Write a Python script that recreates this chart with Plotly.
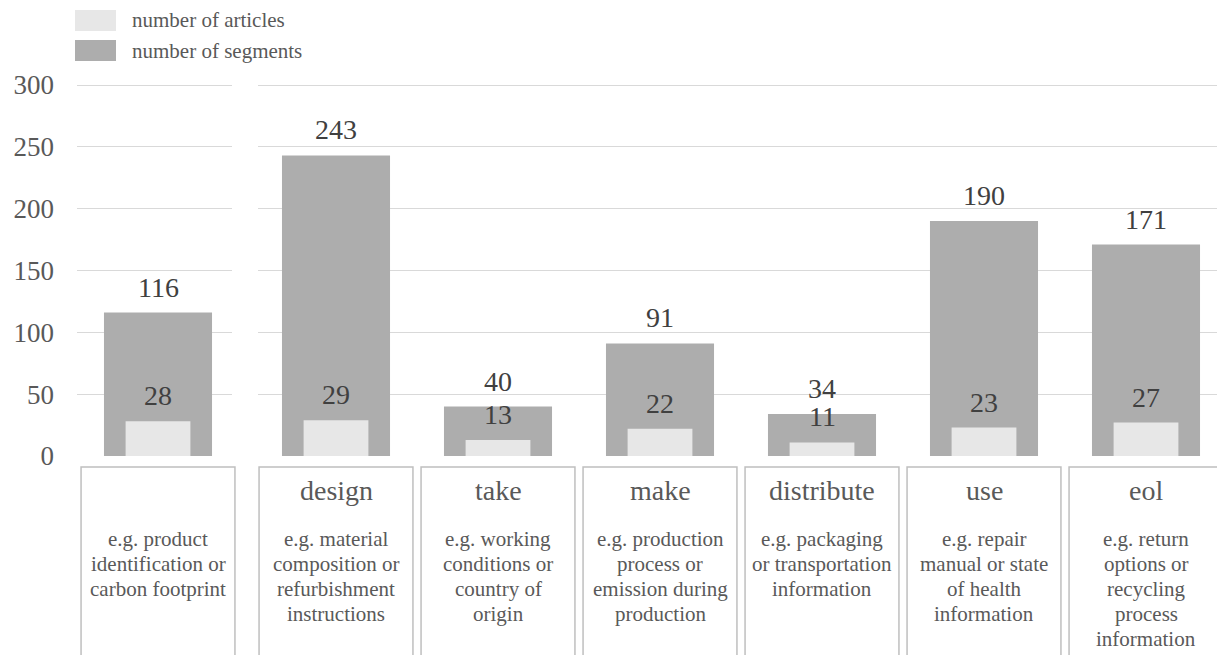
import plotly.graph_objects as go

# ---------------- data ----------------
categories = ["", "design", "take", "make", "distribute", "use", "eol"]
segments = [116, 243, 40, 91, 34, 190, 171]
articles = [28, 29, 13, 22, 11, 23, 27]
descriptions = [
    ["e.g. product", "identification or", "carbon footprint"],
    ["e.g. material", "composition or", "refurbishment", "instructions"],
    ["e.g. working", "conditions or", "country of", "origin"],
    ["e.g. production", "process or", "emission during", "production"],
    ["e.g. packaging", "or transportation", "information"],
    ["e.g. repair", "manual or state", "of health", "information"],
    ["e.g. return", "options or", "recycling", "process", "information"],
]
y_ticks = [0, 50, 100, 150, 200, 250, 300]
legend_names = ["number of articles", "number of segments"]

# ---------------- style ----------------
W, H = 1217, 655
FONT = "Liberation Serif, Times New Roman, serif"
DARK = "#adadad"
LIGHT = "#e7e7e7"
GRID = "#d9d9d9"
TXT = "#595959"
LBL = "#404040"
BOX = "#bfbfbf"

STEP = 162.0  # px per category
dom1 = (77, 232)
dom2 = (258, 1217)
rng1 = [-81 / STEP, (dom1[1] - 158) / STEP]
rng2 = [-78 / STEP, (dom2[1] - 336) / STEP]
Y_MAX = 301.0
PX_PER_UNIT = (456 - 85) / 300.0
y_bot_px = 456
y_top_px = y_bot_px - Y_MAX * PX_PER_UNIT

fig = go.Figure()

groups = [
    ("x", "y", [0]),
    ("x2", "y2", list(range(1, len(categories)))),
]
for xa, ya, idx in groups:
    xs = list(range(len(idx)))
    fig.add_trace(go.Bar(x=xs, y=[segments[i] for i in idx], width=0.667,
                         marker=dict(color=DARK, line=dict(width=0)),
                         xaxis=xa, yaxis=ya, showlegend=False, hoverinfo="skip"))
    fig.add_trace(go.Bar(x=xs, y=[articles[i] for i in idx], width=0.4,
                         marker=dict(color=LIGHT, line=dict(width=0)),
                         xaxis=xa, yaxis=ya, showlegend=False, hoverinfo="skip"))

annotations = []
shapes = []


def cat_px(pos, dom, rng):
    return dom[0] + (pos - rng[0]) / (rng[1] - rng[0]) * (dom[1] - dom[0])


for xa, ya, idx in groups:
    dom, rng = (dom1, rng1) if xa == "x" else (dom2, rng2)
    for k, i in enumerate(idx):
        for val in (segments[i], articles[i]):
            annotations.append(dict(x=k, y=val, xref=xa, yref=ya, text=str(val),
                                    showarrow=False, yanchor="bottom", yshift=8,
                                    font=dict(family=FONT, size=28, color=LBL)))
        cx = cat_px(k, dom, rng)
        half = 0.475 * STEP
        shapes.append(dict(type="rect", xref="paper", yref="paper",
                           x0=(cx - half) / W, x1=(cx + half) / W,
                           y0=-0.1, y1=(H - 467) / H,
                           line=dict(color=BOX, width=1.5), fillcolor="rgba(0,0,0,0)"))
        if categories[i]:
            annotations.append(dict(x=cx / W, y=(H - 490) / H, xref="paper", yref="paper",
                                    text=categories[i], showarrow=False,
                                    xanchor="center", yanchor="middle",
                                    font=dict(family=FONT, size=28, color=TXT)))
        for j, line in enumerate(descriptions[i]):
            annotations.append(dict(x=cx / W, y=(H - (539 + 25 * j)) / H,
                                    xref="paper", yref="paper", text=line,
                                    showarrow=False, xanchor="center", yanchor="middle",
                                    font=dict(family=FONT, size=21, color=TXT)))

# manual legend
legend_colors = [LIGHT, DARK]
for j, (name, col) in enumerate(zip(legend_names, legend_colors)):
    ytop = 10 + 30 * j
    shapes.append(dict(type="rect", xref="paper", yref="paper",
                       x0=75 / W, x1=116 / W, y0=(H - ytop - 21) / H, y1=(H - ytop) / H,
                       line=dict(width=0), fillcolor=col))
    annotations.append(dict(x=130 / W, y=(H - ytop - 10.5) / H, xref="paper", yref="paper",
                            text=name, showarrow=False, xanchor="left", yanchor="middle",
                            font=dict(family=FONT, size=21, color=TXT)))

ydom = [(H - y_bot_px) / H, (H - y_top_px) / H]
axis_hidden = dict(showgrid=False, zeroline=False, showline=False, automargin=False,
                   showticklabels=False, ticks="", fixedrange=True)
yaxis_common = dict(range=[0, Y_MAX], tickvals=y_ticks, showgrid=True, gridcolor=GRID,
                    gridwidth=1, zeroline=False, showline=False, domain=ydom,
                    automargin=False)

fig.update_layout(
    width=W, height=H,
    margin=dict(l=0, r=0, t=0, b=0, pad=0, autoexpand=False),
    paper_bgcolor="white", plot_bgcolor="white",
    barmode="overlay",
    showlegend=False,
    xaxis=dict(domain=[dom1[0] / W, dom1[1] / W], range=rng1, **axis_hidden),
    xaxis2=dict(domain=[dom2[0] / W, dom2[1] / W], range=rng2, anchor="y2", **axis_hidden),
    yaxis=dict(anchor="x", ticklabelstandoff=22,
               tickfont=dict(family=FONT, size=27, color=TXT), **yaxis_common),
    yaxis2=dict(anchor="x2", showticklabels=False, **yaxis_common),
    annotations=annotations,
    shapes=shapes,
    font=dict(family=FONT),
)

fig.write_html("out.html")
